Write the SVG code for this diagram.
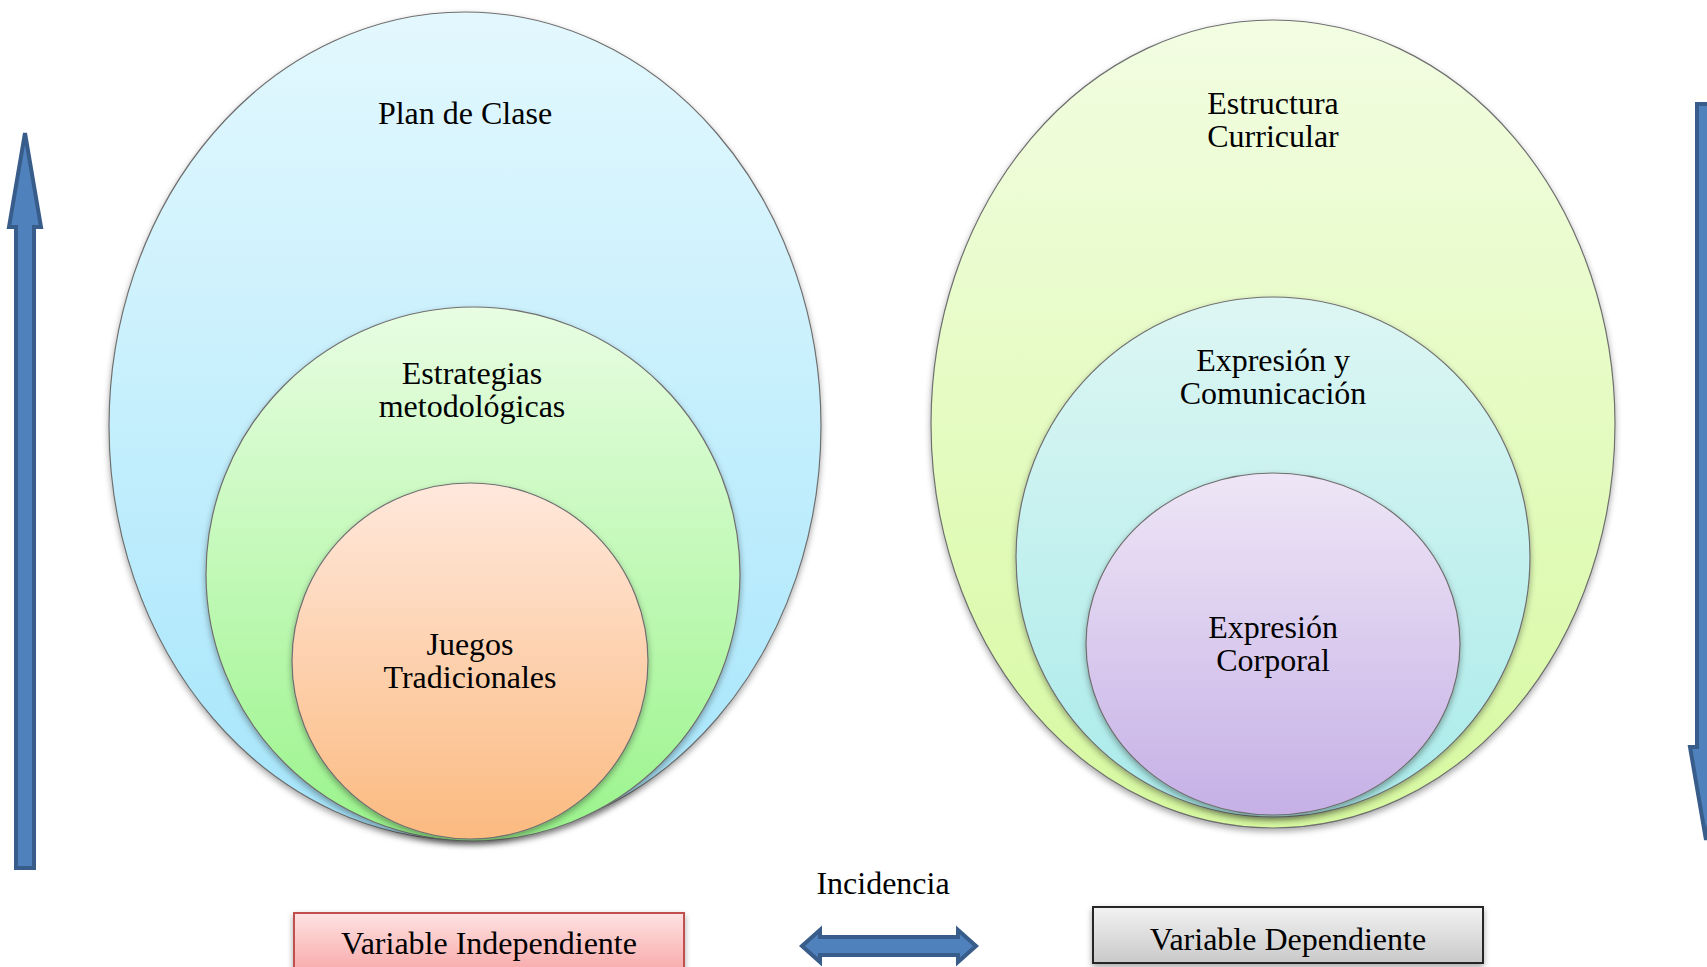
<svg xmlns="http://www.w3.org/2000/svg" width="1707" height="967" viewBox="0 0 1707 967">
<defs>
<linearGradient id="gBlue" x1="0" y1="0" x2="0" y2="1"><stop offset="0" stop-color="#e3f8fe"/><stop offset="1" stop-color="#a5e5fb"/></linearGradient>
<linearGradient id="gGreen" x1="0" y1="0" x2="0" y2="1"><stop offset="0" stop-color="#e8fde2"/><stop offset="1" stop-color="#9af48b"/></linearGradient>
<linearGradient id="gOrange" x1="0" y1="0" x2="0" y2="1"><stop offset="0" stop-color="#ffe8dc"/><stop offset="1" stop-color="#fbba80"/></linearGradient>
<linearGradient id="gLime" x1="0" y1="0" x2="0" y2="1"><stop offset="0" stop-color="#f2fde2"/><stop offset="1" stop-color="#d7f9a0"/></linearGradient>
<linearGradient id="gTeal" x1="0" y1="0" x2="0" y2="1"><stop offset="0" stop-color="#ddf6f3"/><stop offset="1" stop-color="#a9ebea"/></linearGradient>
<linearGradient id="gPurple" x1="0" y1="0" x2="0" y2="1"><stop offset="0" stop-color="#eee6f6"/><stop offset="1" stop-color="#c6b0e6"/></linearGradient>
<linearGradient id="gRed" x1="0" y1="0" x2="0" y2="1"><stop offset="0" stop-color="#ffe2e2"/><stop offset="1" stop-color="#f7a5a5"/></linearGradient>
<linearGradient id="gGray" x1="0" y1="0" x2="0" y2="1"><stop offset="0" stop-color="#f2f2f2"/><stop offset="1" stop-color="#c9c9c9"/></linearGradient>
<filter id="sh" x="-10%" y="-10%" width="120%" height="120%"><feDropShadow dx="0" dy="3" stdDeviation="3" flood-color="#000" flood-opacity="0.35"/></filter>
</defs>
<style>
.c{stroke:#6f6f6f;stroke-width:1.2;filter:url(#sh)}
.t{font-family:"Liberation Serif","Times New Roman",serif;font-size:32px;fill:#000;text-anchor:middle}
.arr{fill:#4f81bd;stroke:#385d8a;stroke-width:4;stroke-linejoin:miter}
</style>
<rect width="1707" height="967" fill="#fff"/>
<g id="plan-de-clase">
<ellipse class="c" cx="465" cy="426" rx="356" ry="414" fill="url(#gBlue)"/>
<text class="t" x="465" y="124">Plan de Clase</text>
</g>
<g id="estrategias">
<ellipse class="c" cx="473" cy="574" rx="267" ry="267" fill="url(#gGreen)"/>
<text class="t" x="472" y="384">Estrategias</text>
<text class="t" x="472" y="417">metodológicas</text>
</g>
<g id="juegos">
<ellipse class="c" cx="470" cy="661" rx="178" ry="178" fill="url(#gOrange)"/>
<text class="t" x="470" y="655">Juegos</text>
<text class="t" x="470" y="688">Tradicionales</text>
</g>
<g id="estructura">
<ellipse class="c" cx="1273" cy="424" rx="342" ry="404" fill="url(#gLime)"/>
<text class="t" x="1273" y="114">Estructura</text>
<text class="t" x="1273" y="147">Curricular</text>
</g>
<g id="expresion-comunicacion">
<ellipse class="c" cx="1273" cy="557" rx="257" ry="260" fill="url(#gTeal)"/>
<text class="t" x="1273" y="371">Expresión y</text>
<text class="t" x="1273" y="404">Comunicación</text>
</g>
<g id="expresion-corporal">
<ellipse class="c" cx="1273" cy="644" rx="187" ry="171" fill="url(#gPurple)"/>
<text class="t" x="1273" y="638">Expresión</text>
<text class="t" x="1273" y="671">Corporal</text>
</g>
<g id="variable-independiente">
<rect x="294" y="913" width="390" height="64" fill="url(#gRed)" stroke="#c0504d" stroke-width="2" filter="url(#sh)"/>
<text class="t" x="489" y="954">Variable Independiente</text>
</g>
<g id="variable-dependiente">
<rect x="1093" y="907" width="390" height="56" fill="url(#gGray)" stroke="#262626" stroke-width="2" filter="url(#sh)"/>
<text class="t" x="1288" y="950">Variable Dependiente</text>
</g>
<g id="connectors">
<path class="arr" d="M16,868 L16,227 L9,227 L25,133 L41,227 L34,227 L34,868 Z"/>
<path class="arr" d="M1697,104 L1697,747 L1690,747 L1706,840 L1722,747 L1715,747 L1715,104 Z"/>
<path class="arr" d="M802,946 L820,930 L820,937 L958,937 L958,930 L976,946 L958,962 L958,955 L820,955 L820,962 Z"/>
<text class="t" x="883" y="894">Incidencia</text>
</g>
</svg>
